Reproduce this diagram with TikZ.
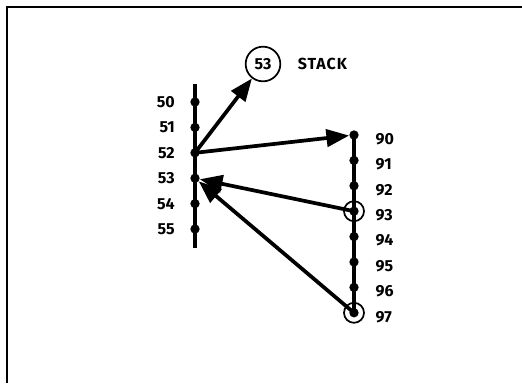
\documentclass[tikz,border=0pt]{standalone}
\usepackage{fontspec}
\setmainfont{Fira Sans}
\usetikzlibrary{arrows.meta, positioning}

\begin{document}
\begin{tikzpicture}[
    x=0.75pt, y=-0.75pt,
    lbl/.style={font=\fontsize{12}{14}\selectfont\bfseries},
    dot/.style={circle, fill=black, inner sep=0pt, minimum size=7pt},
    ring/.style={circle, draw, line width=1.3pt, inner sep=0pt, minimum size=15pt},
    bar/.style={line width=2.8pt},
    arrow/.style={-{Triangle[length=17pt, width=13pt]}, line width=2.8pt}
]
    \useasboundingbox (0,0) rectangle (522,383);
    % frame
    \draw[line width=1.5pt] (7,383) -- (7,7) -- (522,7);

    % main routine
    \coordinate (top) at (195,84);
    \coordinate (bottom) at (195,248);
    \draw[bar] (top) -- (bottom);
    \foreach \n [count=\i from 0] in {50,51,52,53,54,55}
        \node[dot, label={[lbl, label distance=8pt]left:\n}] (s\n) at (195,102+25.4*\i) {};

    % subroutine
    \foreach \n [count=\i from 0] in {90,91,92,93,94,95,96,97}
        \node[dot, label={[lbl, label distance=9pt, yshift=-3pt]right:\n}] (r\n) at (354,135+25.4*\i) {};
    \draw[bar] (r90.center) -- (r97.center);
    \node[ring] at (r93) {};
    \node[ring] at (r97) {};

    % stack
    \node[circle, draw, line width=1.3pt, minimum size=26pt, inner sep=0pt, lbl] (stack) at (263,64) {53};
    \node[lbl, right=9pt of stack] (stacklbl) {\addfontfeatures{LetterSpace=6}STACK};

    \draw[arrow] (s52.center) -- (stack);
    \draw[arrow] (s52.center) -- (r90);
    \draw[arrow] (r93.center) -- (s53);
    \draw[arrow] (r97.center) -- (s53);
\end{tikzpicture}
\end{document}
